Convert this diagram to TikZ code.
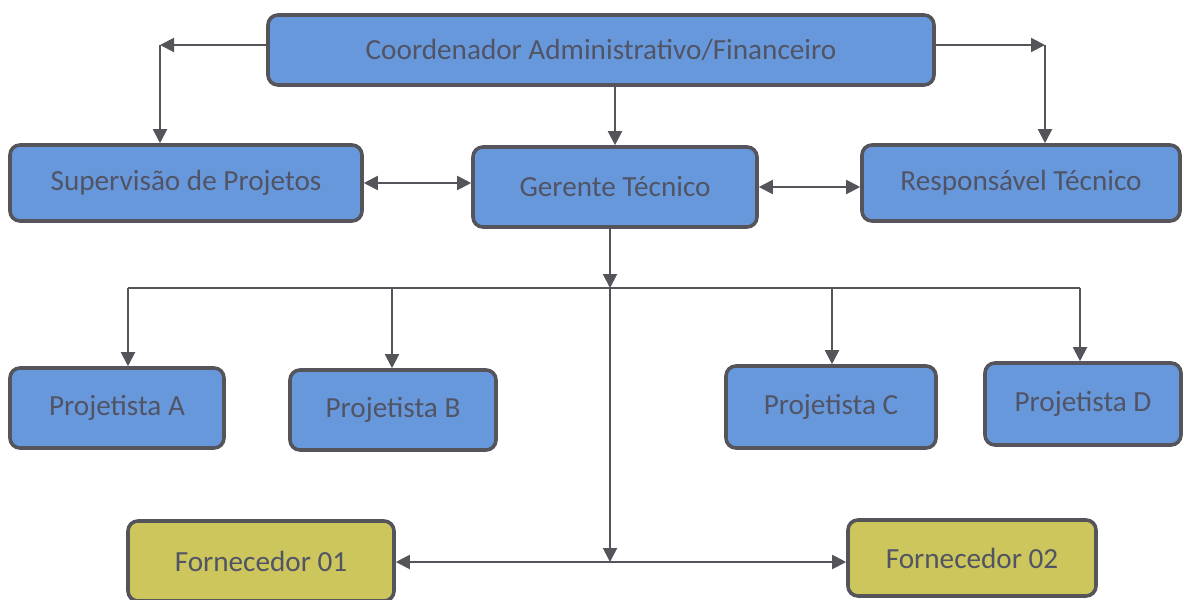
\documentclass[tikz,border=0pt]{standalone}
\usepackage{fontspec}
\setmainfont{Carlito}
\usetikzlibrary{positioning}
\usetikzlibrary{arrows.meta}

\definecolor{boxblue}{RGB}{104,152,220}
\definecolor{boxyellow}{RGB}{204,198,92}
\definecolor{edgegray}{RGB}{84,84,90}
\definecolor{textgray}{RGB}{80,84,100}

\begin{document}
\begin{tikzpicture}[x=0.5pt,y=-0.5pt]
\useasboundingbox (0,0) rectangle (1184,600);
\begin{scope}[every node/.style={rectangle,rounded corners=5pt,draw=edgegray,
              line width=1.8pt,fill=boxblue,text=textgray,font=\fontsize{14.6}{17}\selectfont,
              inner sep=0pt}]
    \node[minimum width=333pt,minimum height=35pt] (coord) at (601,50) {Coordenador Administrativo/Financeiro};
    \node[minimum width=176pt,minimum height=38pt] (sup) at (186,183) {Supervisão de Projetos};
    \node[minimum width=142pt,minimum height=40pt] (ger) at (615,187) {Gerente Técnico};
    \node[minimum width=159pt,minimum height=38pt] (resp) at (1021,183) {Responsável Técnico};
    \node[minimum width=107pt,minimum height=40pt] (pA) at (117,408) {Projetista A};
    \node[minimum width=103pt,minimum height=40pt] (pB) at (393,410) {Projetista B};
    \node[minimum width=105pt,minimum height=41pt] (pC) at (831,407) {Projetista C};
    \node[minimum width=98pt,minimum height=41pt] (pD) at (1083,404) {Projetista D};
    \node[fill=boxyellow,minimum width=133pt,minimum height=40pt] (f1) at (261,561) {Fornecedor 01};
    \node[fill=boxyellow,minimum width=124pt,minimum height=38pt] (f2) at (972,558) {Fornecedor 02};
\end{scope}
\begin{scope}[>={Triangle[length=7pt,width=7pt]},
              every edge/.style={draw=edgegray,line width=1pt}]
    \coordinate (cl) at (160,45);
    \coordinate (cr) at (1045,45);
    \coordinate (bus) at (610,288);
    \coordinate (fj) at (610,562);
    \path (coord.west |- cl) edge [->] (cl);
    \path (cl) edge [->] (sup.north -| cl);
    \path (coord.east |- cr) edge [->] (cr);
    \path (cr) edge [->] (resp.north -| cr);
    \path (coord.south -| ger.north) edge [->] (ger.north);
    \path (sup.east) edge [<->] (sup.east -| ger.west);
    \path (ger.east) edge [<->] (ger.east -| resp.west);
    \path (ger.south -| bus) edge [->] (bus);
    \draw [draw=edgegray,line width=1pt] (128,288) -- (1080,288);
    \foreach \n/\x in {pA/128,pB/392,pC/832,pD/1080}
        \path (\x,288) edge [->] (\n.north -| {(\x,288)});
    \path (bus) edge [->] (fj);
    \path (f1.east |- fj) edge [<->] (f2.west |- fj);
\end{scope}
\end{tikzpicture}
\end{document}
